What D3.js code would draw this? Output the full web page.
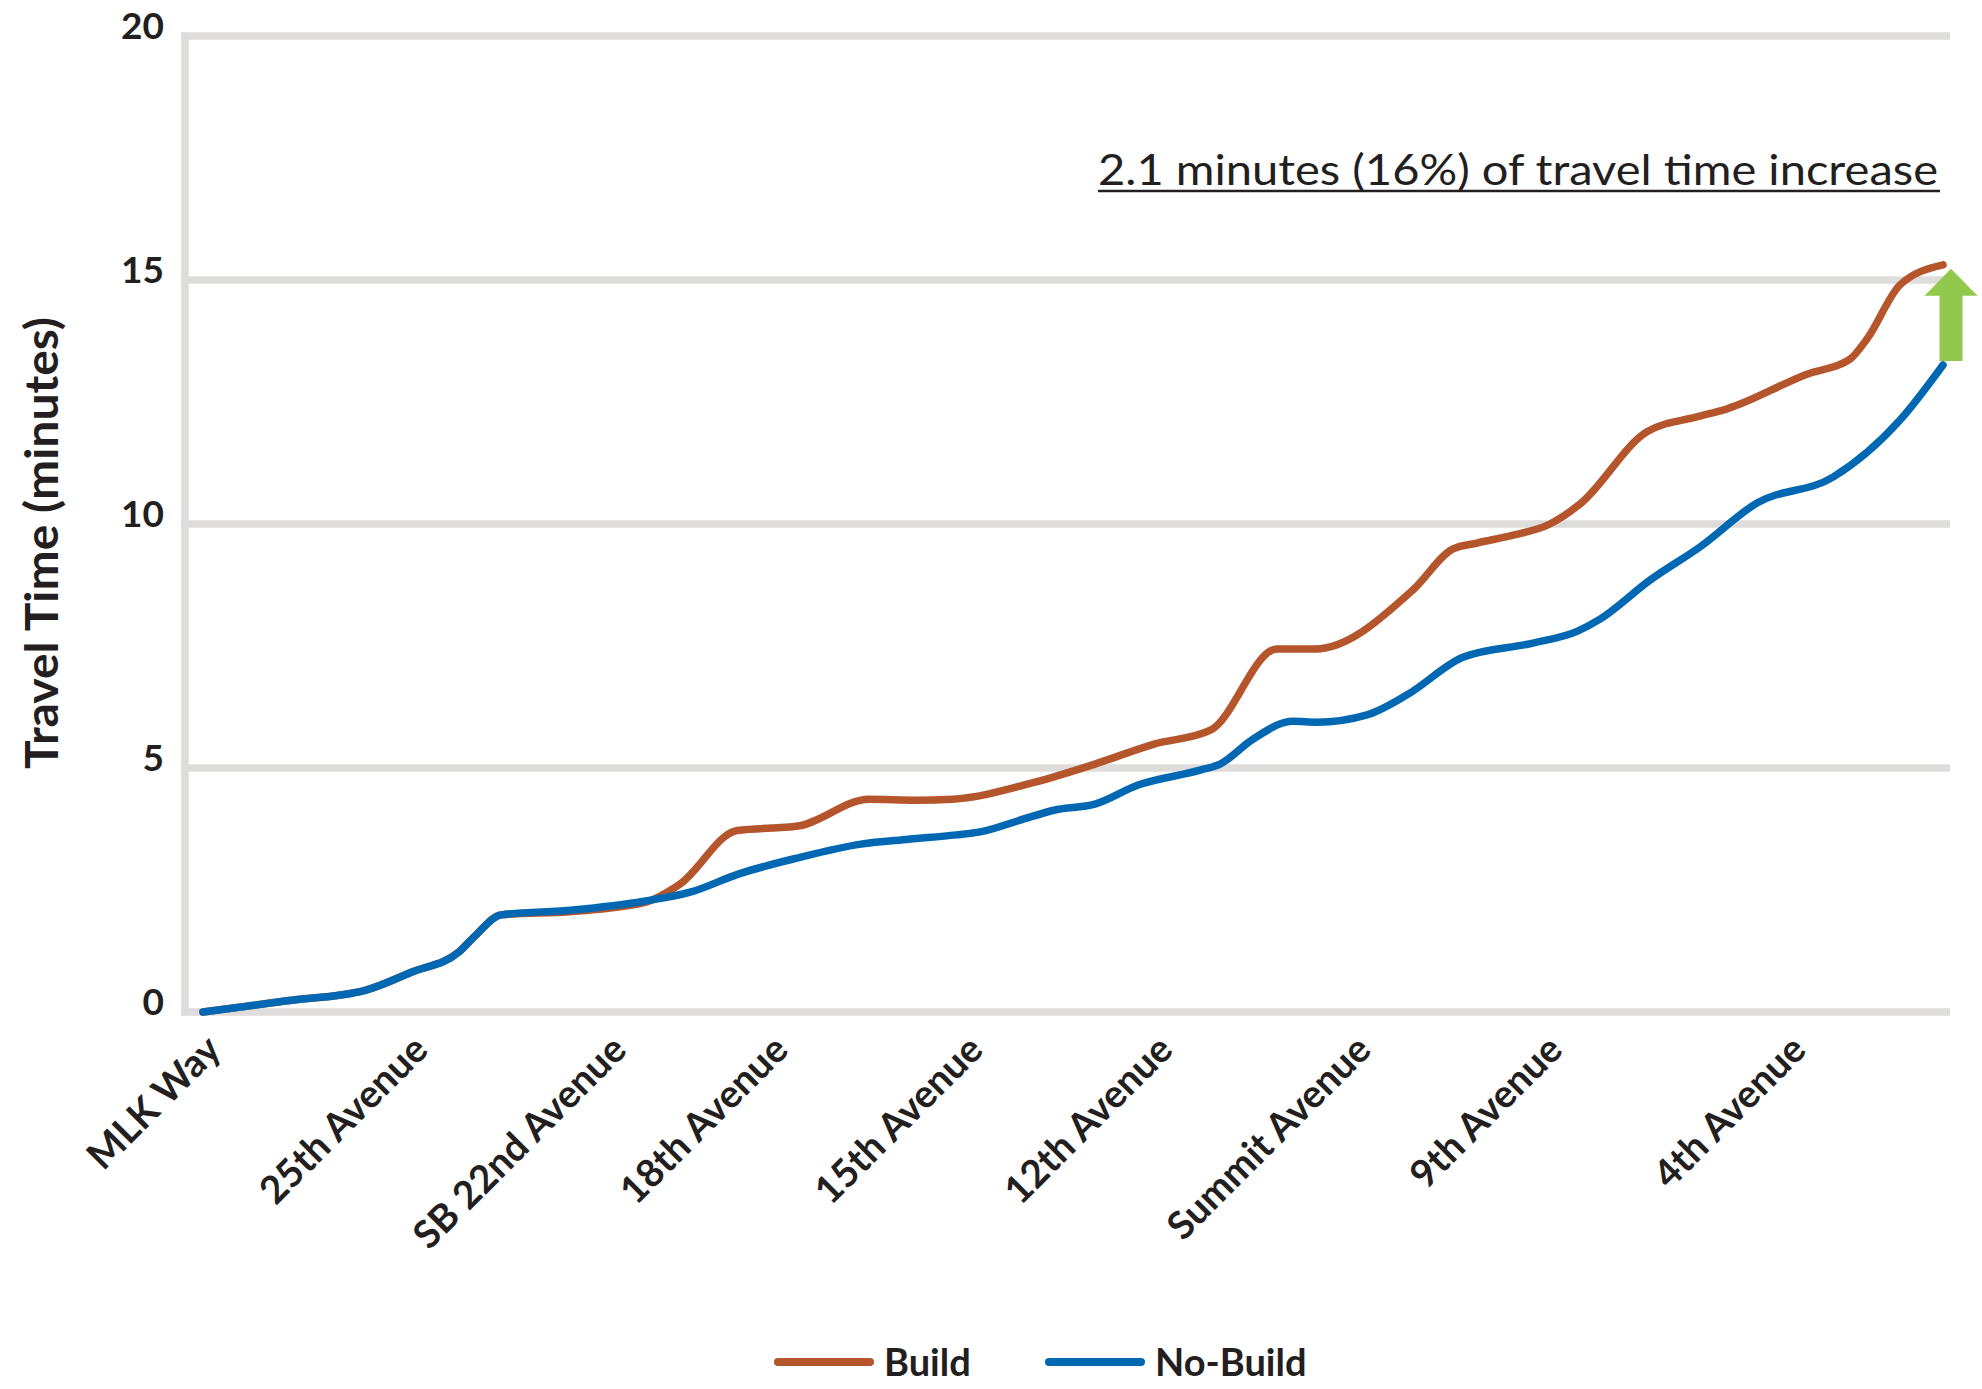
<!DOCTYPE html>
<html>
<head>
<meta charset="utf-8">
<script src="https://cdn.jsdelivr.net/npm/d3@7"></script>
<style>
  html, body { margin: 0; padding: 0; background: #ffffff; }
  svg { display: block; font-family: Lato, "Open Sans", sans-serif; }
</style>
</head>
<body>
<svg id="chart" width="1982" height="1389"></svg>
<script>
// ---- Data (positions are % of corridor length, values in minutes) ----
const stationNames = ["MLK Way", "25th Avenue", "SB 22nd Avenue", "18th Avenue", "15th Avenue",
                      "12th Avenue", "Summit Avenue", "9th Avenue", "4th Avenue"];
const stationPos = [0, 11.9, 23.3, 32.6, 43.8, 54.7, 66.1, 77.1, 91.1];

const noBuildPos = [0, 4.83, 9.37, 12.01, 14.71, 15.69, 17.13, 21.26, 25.34, 28.05, 30.80, 34.20,
                    37.82, 40.57, 43.28, 44.66, 46.95, 48.97, 51.26, 53.74, 57.36, 58.45, 60.34,
                    62.64, 64.02, 66.90, 69.20, 72.41, 76.44, 78.97, 80.29, 83.16, 86.03, 89.31,
                    93.68, 97.53, 100];
const noBuildTime = [0, 0.23, 0.45, 0.82, 1.23, 1.58, 1.99, 2.09, 2.27, 2.46, 2.83, 3.16,
                     3.44, 3.54, 3.63, 3.69, 3.93, 4.14, 4.26, 4.65, 4.96, 5.08, 5.59,
                     5.96, 5.94, 6.09, 6.50, 7.27, 7.56, 7.80, 8.05, 8.85, 9.53, 10.43,
                     10.96, 12.13, 13.26];

const buildPos = [0, 4.83, 9.37, 12.01, 14.71, 15.69, 17.13, 21.26, 25.34, 27.41, 30.69, 34.20,
                  38.28, 41.03, 43.05, 47.82, 51.26, 54.66, 57.93, 61.72, 63.91, 69.54, 71.84,
                  73.22, 75.29, 77.41, 79.14, 82.99, 86.03, 87.59, 92.18, 94.66, 95.63, 97.53, 100];
const buildTime = [0, 0.23, 0.45, 0.82, 1.23, 1.58, 1.99, 2.06, 2.24, 2.62, 3.72, 3.81,
                   4.36, 4.34, 4.36, 4.71, 5.08, 5.49, 5.78, 7.44, 7.44, 8.65, 9.49,
                   9.61, 9.77, 10.00, 10.41, 11.89, 12.21, 12.36, 13.07, 13.38, 13.79, 14.90, 15.31];

const yTicks = [0, 5, 10, 15, 20];
const seriesNames = ["Build", "No-Build"];
const annotationText = "2.1 minutes (16%) of travel time increase";
const yTitle = "Travel Time (minutes)";

// ---- Layout ----
const svg = d3.select("#chart");
const textColor = "#231f20";
const gridColor = "#dedddb";
const buildColor = "#b5552b";
const noBuildColor = "#0068b3";
const arrowColor = "#92c84b";

const x = d3.scaleLinear().domain([0, 100]).range([203, 1943]);
const y = d3.scaleLinear().domain([0, 20]).range([1012, 36]);

// gridlines
svg.append("g").selectAll("line").data(yTicks).join("line")
  .attr("x1", 181).attr("x2", 1950)
  .attr("y1", d => y(d)).attr("y2", d => y(d))
  .attr("stroke", gridColor).attr("stroke-width", 7.5);

// left axis line
svg.append("line")
  .attr("x1", 185).attr("x2", 185)
  .attr("y1", y(20) - 3.5).attr("y2", y(0) + 3.5)
  .attr("stroke", gridColor).attr("stroke-width", 7.5);

// y tick labels
svg.append("g").selectAll("text").data(yTicks).join("text")
  .attr("x", 164).attr("y", d => y(d) + 3)
  .attr("text-anchor", "end")
  .attr("font-size", 37).attr("font-weight", 700).attr("fill", textColor)
  .text(d => d);

// y title
svg.append("text")
  .attr("transform", "translate(58,543) rotate(-90)")
  .attr("text-anchor", "middle")
  .attr("font-size", 45).attr("font-weight", 700).attr("fill", textColor)
  .attr("textLength", 452).attr("lengthAdjust", "spacingAndGlyphs")
  .text(yTitle);

// x labels
svg.append("g").selectAll("text").data(stationNames).join("text")
  .attr("transform", (d, i) => `translate(${x(stationPos[i]) + 20},1052) rotate(-45)`)
  .attr("text-anchor", "end")
  .attr("font-size", 38.5).attr("font-weight", 700).attr("fill", textColor)
  .text(d => d);

// lines
const line = d3.line().x(d => x(d[0])).y(d => y(d[1])).curve(d3.curveMonotoneX);
const buildData = buildPos.map((p, i) => [p, buildTime[i]]);
const noBuildData = noBuildPos.map((p, i) => [p, noBuildTime[i]]);

svg.append("path").datum(buildData)
  .attr("d", line).attr("fill", "none")
  .attr("stroke", buildColor).attr("stroke-width", 7.5)
  .attr("stroke-linecap", "round").attr("stroke-linejoin", "round");
svg.append("path").datum(noBuildData)
  .attr("d", line).attr("fill", "none")
  .attr("stroke", noBuildColor).attr("stroke-width", 7.5)
  .attr("stroke-linecap", "round").attr("stroke-linejoin", "round");

// arrow between end values
const ax = x(100) + 8;
const yTop = y(buildTime[buildTime.length - 1]) + 4;
const yBot = y(noBuildTime[noBuildTime.length - 1]) - 4;
const headH = 27, headW = 26.5, shaftW = 11.5;
svg.append("path")
  .attr("d", `M${ax - shaftW},${yBot} L${ax - shaftW},${yTop + headH} L${ax - headW},${yTop + headH} ` +
             `L${ax},${yTop} L${ax + headW},${yTop + headH} L${ax + shaftW},${yTop + headH} L${ax + shaftW},${yBot} Z`)
  .attr("fill", arrowColor);

// annotation
svg.append("text")
  .attr("x", 1098).attr("y", 185)
  .attr("font-size", 42).attr("font-weight", 400).attr("fill", textColor)
  .attr("textLength", 840).attr("lengthAdjust", "spacingAndGlyphs")
  .text(annotationText);
svg.append("line")
  .attr("x1", 1098).attr("x2", 1940).attr("y1", 191).attr("y2", 191)
  .attr("stroke", textColor).attr("stroke-width", 2.5);

// legend
const legendX = [778, 1049];
const legendColors = [buildColor, noBuildColor];
const lg = svg.append("g").selectAll("g").data(seriesNames).join("g");
lg.append("line")
  .attr("x1", (d, i) => legendX[i]).attr("x2", (d, i) => legendX[i] + 92)
  .attr("y1", 1362).attr("y2", 1362)
  .attr("stroke", (d, i) => legendColors[i]).attr("stroke-width", 8)
  .attr("stroke-linecap", "round");
lg.append("text")
  .attr("x", (d, i) => legendX[i] + 106).attr("y", 1376)
  .attr("font-size", 38).attr("font-weight", 700).attr("fill", textColor)
  .text(d => d);
</script>
</body>
</html>
